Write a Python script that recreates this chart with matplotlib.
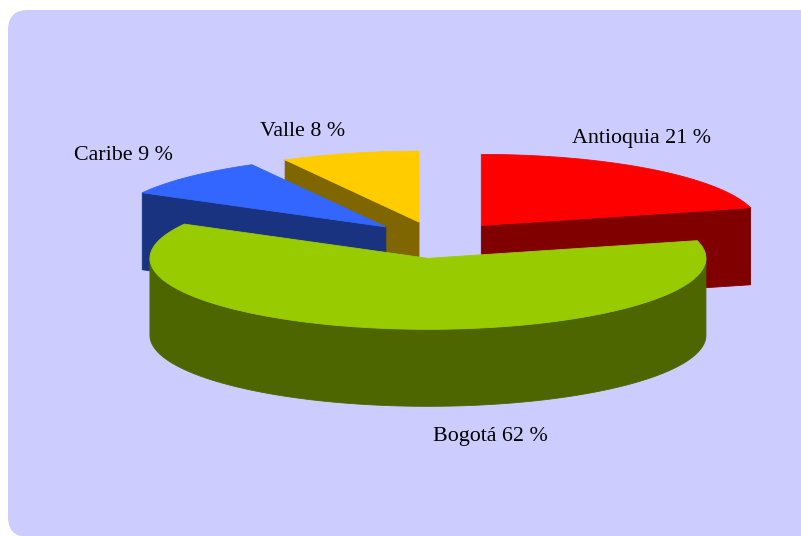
import numpy as np
import matplotlib
matplotlib.use("Agg")
import matplotlib.pyplot as plt
from matplotlib.patches import Polygon, FancyBboxPatch

# ---- data ----
categories = ["Antioquia", "Bogotá", "Caribe", "Valle"]
values = [21, 62, 9, 8]
top_colors = ["#FF0000", "#99CC00", "#3366FF", "#FFCC00"]
side_colors = ["#800000", "#4D6600", "#1A3380", "#806600"]
labels = [f"{c} {v} %" for c, v in zip(categories, values)]
label_xy = [(641, 138), (490, 437), (123, 156), (303, 131)]

# ---- geometry (pixel units) ----
CX, CY = 437, 240
A, B = 278, 71
DEPTH = 77
EXPLODE = 0.26
START = 90

fig = plt.figure(figsize=(8.01, 5.36), dpi=100)
fig.patch.set_facecolor("white")
ax = fig.add_axes([0, 0, 1, 1])
ax.set_xlim(0, 801)
ax.set_ylim(536, 0)
ax.axis("off")
ax.add_patch(FancyBboxPatch((8, 10), 820, 527,
                            boxstyle="round,pad=0,rounding_size=20",
                            fc="#CCCCFF", ec="none", zorder=0))

total = float(sum(values))
spans = []
a0 = START
for v in values:
    a1 = a0 - 360.0 * v / total
    spans.append((a1, a0))
    a0 = a1


def pt(cx, cy, th, dz=0.0):
    t = np.radians(th)
    return (cx + A * np.cos(t), cy - B * np.sin(t) + dz)


slices = []
for i, (lo, hi) in enumerate(spans):
    mid = np.radians((lo + hi) / 2)
    cx = CX + EXPLODE * A * np.cos(mid)
    cy = CY - EXPLODE * B * np.sin(mid)
    slices.append((cy, i, cx, lo, hi))

slices.sort()
z = 1
for cy, i, cx, lo, hi in slices:
    faces = []
    # radial face at hi edge
    if np.cos(np.radians(hi)) < -1e-6:
        p = pt(cx, cy, hi)
        faces.append([(cx, cy), p, (p[0], p[1] + DEPTH), (cx, cy + DEPTH)])
    # radial face at lo edge
    if -np.cos(np.radians(lo)) < -1e-6:
        p = pt(cx, cy, lo)
        faces.append([(cx, cy), p, (p[0], p[1] + DEPTH), (cx, cy + DEPTH)])
    # curved outer face (front half)
    th = np.linspace(lo, hi, 800)
    front = np.sin(np.radians(th)) < 0
    if front.any():
        idx = np.where(front)[0]
        segs = np.split(idx, np.where(np.diff(idx) != 1)[0] + 1)
        for s in segs:
            tt = th[s]
            top = [pt(cx, cy, t) for t in tt]
            bot = [pt(cx, cy, t, DEPTH) for t in tt[::-1]]
            faces.append(top + bot)
    for f in faces:
        ax.add_patch(Polygon(f, closed=True, fc=side_colors[i],
                             ec=side_colors[i], lw=0.6, zorder=z))
    z += 1
    arc = [pt(cx, cy, t) for t in np.linspace(hi, lo, 400)]
    ax.add_patch(Polygon([(cx, cy)] + arc, closed=True, fc=top_colors[i],
                         ec=top_colors[i], lw=0.6, zorder=z))
    z += 1

for lab, (x, y) in zip(labels, label_xy):
    ax.text(x, y, lab, ha="center", va="center", fontsize=15.8,
            family=["Liberation Serif", "DejaVu Serif"], color="black",
            zorder=50)

fig.savefig("out.png", dpi=100, facecolor="white")
